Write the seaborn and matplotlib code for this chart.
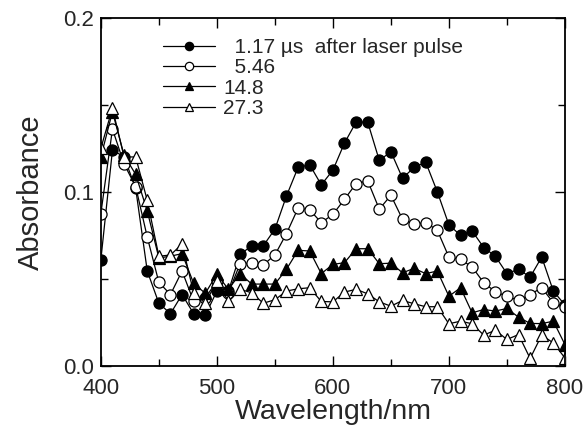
import numpy as np
import pandas as pd
import matplotlib
matplotlib.use("Agg")
import matplotlib.pyplot as plt
from matplotlib.ticker import MultipleLocator, FormatStrFormatter
import seaborn as sns

# wavelength grid (nm), one point every 10 nm
wavelength = list(range(400, 801, 10))

abs_117 = [0.061, 0.124, 0.120, 0.102, 0.0545, 0.036, 0.030, 0.041, 0.030, 0.029,
           0.043, 0.043, 0.064, 0.069, 0.069, 0.0785, 0.0976, 0.114, 0.1155, 0.104,
           0.1124, 0.128, 0.140, 0.140, 0.118, 0.123, 0.1078, 0.114, 0.117, 0.100,
           0.081, 0.075, 0.0775, 0.068, 0.063, 0.053, 0.0555, 0.051, 0.0625, 0.043,
           0.035]
abs_546 = [0.0875, 0.136, 0.116, 0.103, 0.074, 0.048, 0.041, 0.0545, 0.037, 0.039,
           0.0487, 0.042, 0.0587, 0.059, 0.058, 0.0637, 0.076, 0.0906, 0.0896, 0.0823,
           0.087, 0.0957, 0.1047, 0.1063, 0.090, 0.098, 0.0842, 0.0814, 0.0823, 0.0779,
           0.0625, 0.0612, 0.0568, 0.0478, 0.0426, 0.040, 0.0376, 0.041, 0.0449, 0.0363,
           0.034]
abs_148 = [0.120, 0.146, 0.121, 0.110, 0.089, 0.062, 0.063, 0.0645, 0.0474, 0.0417,
           0.0526, 0.044, 0.053, 0.047, 0.047, 0.047, 0.0555, 0.0664, 0.066, 0.053,
           0.0583, 0.0593, 0.0673, 0.0673, 0.0587, 0.059, 0.0535, 0.056, 0.053, 0.0545,
           0.040, 0.0449, 0.0305, 0.0324, 0.0315, 0.033, 0.028, 0.0244, 0.0243, 0.0257,
           0.0123]
abs_273 = [0.125, 0.148, 0.120, 0.120, 0.095, 0.063, 0.0637, 0.070, 0.042, 0.036,
           0.0487, 0.037, 0.044, 0.042, 0.036, 0.038, 0.043, 0.0443, 0.0449, 0.037,
           0.0368, 0.0424, 0.044, 0.0414, 0.0368, 0.0343, 0.0376, 0.0357, 0.034, 0.034,
           0.0242, 0.0257, 0.0242, 0.0177, 0.0205, 0.0152, 0.018, 0.0043, 0.0177, 0.0132,
           0.0046]

labels = ["  1.17 \u00b5s  after laser pulse", "  5.46", "14.8", "27.3"]

sns.set_style("ticks")
plt.rcParams["font.family"] = ["Liberation Sans", "DejaVu Sans"]

fig = plt.figure(figsize=(5.83, 4.30), dpi=100)
ax = fig.add_axes([0.173, 0.149, 0.796, 0.810])

series = [
    (abs_117, "o", "black"),
    (abs_546, "o", "white"),
    (abs_148, "^", "black"),
    (abs_273, "^", "white"),
]
for (vals, mk, face), lab in zip(series, labels):
    df = pd.DataFrame({"Wavelength": wavelength, "Absorbance": vals})
    sns.lineplot(data=df, x="Wavelength", y="Absorbance", ax=ax, color="black",
                 marker=mk, mfc=face, mec="black", mew=0.9, ms=8, lw=0.9,
                 label=lab)

ax.set_xlim(400, 800)
ax.set_ylim(0, 0.2)
ax.xaxis.set_major_locator(MultipleLocator(100))
ax.xaxis.set_minor_locator(MultipleLocator(50))
ax.yaxis.set_major_locator(MultipleLocator(0.1))
ax.yaxis.set_minor_locator(MultipleLocator(0.05))
ax.yaxis.set_major_formatter(FormatStrFormatter("%.1f"))
ax.tick_params(which="both", direction="in", top=True, right=True, labelsize=16,
               width=1, color="black", pad=5)
ax.tick_params(axis="x", which="both", pad=9)
ax.tick_params(which="major", length=7)
ax.tick_params(which="minor", length=5)
for sp in ax.spines.values():
    sp.set_linewidth(1.3)
    sp.set_color("black")

ax.set_xlabel("Wavelength/nm", fontsize=20.5, labelpad=0)
ax.set_ylabel("Absorbance", fontsize=21, labelpad=13)

handles, labs = ax.get_legend_handles_labels()
ax.legend(handles, labs, loc="upper left", bbox_to_anchor=(0.107, 0.978),
          frameon=False, fontsize=15, handlelength=2.5, handletextpad=0.38,
          labelspacing=0.07, markerscale=0.75, borderaxespad=0.2)

fig.savefig("out.png", dpi=100)
